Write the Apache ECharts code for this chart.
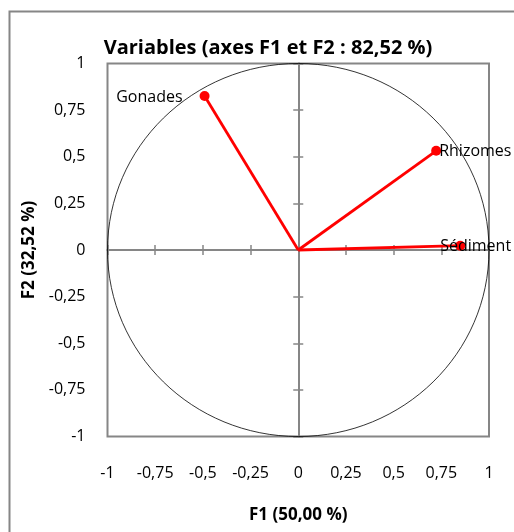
<!DOCTYPE html>
<html>
<head>
<meta charset="utf-8">
<script src="https://cdn.jsdelivr.net/npm/echarts@6/dist/echarts.min.js"></script>
<style>html,body{margin:0;padding:0;background:#fff}#c{width:514px;height:532px}</style>
</head>
<body>
<div id="c"></div>
<script>
// Data
var variables = ['Gonades', 'Rhizomes', 'Sédiment'];
var f1 = [-0.491, 0.723, 0.849];
var f2 = [0.826, 0.532, 0.023];
var axisMin = -1, axisMax = 1, axisStep = 0.25;
var titleText = 'Variables (axes F1 et F2 : 82,52 %)';
var xName = 'F1 (50,00 %)';
var yName = 'F2 (32,52 %)';

var FONT = 'Open Sans';
var GRAY = '#868686';
var fmt = function (v) { return String(+v.toFixed(2)).replace('.', ','); };

var labelPos = {
  'Gonades': { position: 'left', distance: 17, offset: [0, 1] },
  'Rhizomes': { position: 'right', distance: -2, offset: [0, 1] },
  'Sédiment': { position: 'right', distance: -25, offset: [0, 1] }
};

var series = variables.map(function (name, i) {
  var lp = labelPos[name];
  return {
    type: 'line', name: name, xAxisIndex: 0, yAxisIndex: 0,
    data: [
      { value: [0, 0], symbol: 'none', label: { show: false } },
      { value: [f1[i], f2[i]] }
    ],
    symbol: 'circle', symbolSize: 10, showAllSymbol: true,
    lineStyle: { color: '#FF0000', width: 2.8 },
    itemStyle: { color: '#FF0000' },
    label: { show: true, position: lp.position, distance: lp.distance, offset: lp.offset,
      formatter: name, color: '#000', fontFamily: FONT, fontSize: 16 },
    z: 5, animation: false
  };
});

// unit circle (correlation circle)
series.unshift({
  type: 'custom', xAxisIndex: 0, yAxisIndex: 0, data: [[0, 0]], silent: true, z: 3,
  renderItem: function (params, api) {
    var c = api.coord([0, 0]);
    var px = api.coord([1, 0]);
    var py = api.coord([0, 1]);
    return { type: 'ellipse', shape: { cx: c[0], cy: c[1], rx: px[0] - c[0], ry: c[1] - py[1] },
      style: { fill: 'none', stroke: '#000', lineWidth: 0.8 } };
  }
});

function baseAxis(extra) {
  var a = { type: 'value', min: axisMin, max: axisMax, interval: axisStep, splitLine: { show: false } };
  for (var k in extra) a[k] = extra[k];
  return a;
}
var zeroLine = { show: true, onZero: true, onZeroAxisIndex: 0, lineStyle: { color: GRAY, width: 2 } };

var option = {
  animation: false,
  title: { text: titleText, left: 263, top: 33, textAlign: 'center',
    textStyle: { fontFamily: FONT, fontSize: 20, fontWeight: 'bold', color: '#000' } },
  grid: { left: 107.5, right: 25, top: 63.5, bottom: 95.5, show: true, borderColor: GRAY, borderWidth: 2 },
  xAxis: [
    baseAxis({ position: 'bottom', axisLine: { show: false, onZero: false }, axisTick: { show: false },
      axisLabel: { formatter: fmt, margin: 29, color: '#000', fontFamily: FONT, fontSize: 16 },
      name: xName, nameLocation: 'middle', nameGap: 70,
      nameTextStyle: { fontFamily: FONT, fontSize: 17, fontWeight: 'bold', color: '#000' } }),
    baseAxis({ axisLine: zeroLine, axisTick: { show: true, inside: true, length: 5, lineStyle: { color: GRAY, width: 1.5 } }, axisLabel: { show: false } }),
    baseAxis({ axisLine: zeroLine, axisTick: { show: true, inside: false, length: 5, lineStyle: { color: GRAY, width: 1.5 } }, axisLabel: { show: false } })
  ],
  yAxis: [
    baseAxis({ position: 'left', axisLine: { show: false, onZero: false }, axisTick: { show: false },
      axisLabel: { formatter: fmt, margin: 22, color: '#000', fontFamily: FONT, fontSize: 16 },
      name: yName, nameLocation: 'middle', nameGap: 70, nameRotate: 90,
      nameTextStyle: { fontFamily: FONT, fontSize: 17, fontWeight: 'bold', color: '#000' } }),
    baseAxis({ axisLine: zeroLine, axisTick: { show: true, inside: true, length: 5, lineStyle: { color: GRAY, width: 1.5 } }, axisLabel: { show: false } }),
    baseAxis({ axisLine: zeroLine, axisTick: { show: true, inside: false, length: 5, lineStyle: { color: GRAY, width: 1.5 } }, axisLabel: { show: false } })
  ],
  graphic: [
    { type: 'rect', left: 7, top: 9, shape: { width: 700, height: 700 }, style: { fill: 'none', stroke: GRAY, lineWidth: 2 }, silent: true, z: -1 }
  ],
  series: series
};
var chart = echarts.init(document.getElementById('c'), null, { renderer: 'canvas' });
chart.setOption(option);
</script>
</body>
</html>
